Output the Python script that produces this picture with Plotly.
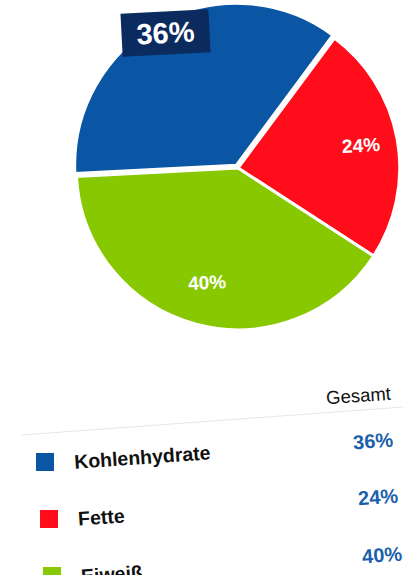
import math
import plotly.graph_objects as go

# ---------------- data ----------------
categories = ["Kohlenhydrate", "Fette", "Eiweiß"]
values = [36, 24, 40]
percent_labels = ["36%", "24%", "40%"]
colors = ["#0a55a4", "#ff0d1a", "#88c800"]
column_header = "Gesamt"

# ---------------- layout constants ----------------
W, H = 403, 575
DOM_X = [0.1811, 1.0]
DOM_Y = [0.4157, 1.0]
PULL = [0.02, 0, 0]
ROTATION = -93
FONT = "Liberation Sans, Arial, Helvetica, sans-serif"
TILT = -4


def px(x):
    """screen pixel x -> paper x"""
    return x / W


def py(y):
    """screen pixel y -> paper y"""
    return 1 - y / H


fig = go.Figure()
fig.add_trace(go.Pie(
    labels=categories,
    values=values,
    sort=False,
    direction="clockwise",
    rotation=ROTATION,
    pull=PULL,
    marker=dict(colors=colors, line=dict(color="white", width=3)),
    textinfo="none",
    hoverinfo="label+percent",
    domain=dict(x=DOM_X, y=DOM_Y),
    showlegend=False,
))

# pie geometry (same rules plotly uses) to place the slice labels
box_w = W * (DOM_X[1] - DOM_X[0])
box_h = H * (DOM_Y[1] - DOM_Y[0])
r = min(box_w, box_h) / (2 + 2 * max(PULL))
cx = W * (DOM_X[0] + DOM_X[1]) / 2
cy = H * (1 - DOM_Y[1]) + box_h / 2

label_radius = [0.93, 0.77, 0.73]
total = sum(values)
start = ROTATION
annotations = []
for i, v in enumerate(values):
    span = 360 * v / total
    mid = math.radians(start + span / 2)
    start += span
    rr = (label_radius[i] + PULL[i]) * r
    lx = cx + rr * math.sin(mid)
    ly = cy - rr * math.cos(mid)
    if i == 0:
        annotations.append(dict(
            x=px(lx), y=py(ly), xref="paper", yref="paper",
            text="<b>%s</b>" % percent_labels[i], showarrow=False,
            font=dict(family=FONT, size=29, color="white"),
            bgcolor="#0b2b5f", borderpad=4, width=79, height=34,
            textangle=-3, xanchor="center", yanchor="middle",
        ))
    else:
        annotations.append(dict(
            x=px(lx), y=py(ly), xref="paper", yref="paper",
            text="<b>%s</b>" % percent_labels[i], showarrow=False,
            font=dict(family=FONT, size=19, color="white"),
            textangle=-3, xanchor="center", yanchor="middle",
        ))

# ---------------- table below the pie ----------------
annotations.append(dict(
    x=px(358), y=py(395), xref="paper", yref="paper", text=column_header,
    showarrow=False, font=dict(family=FONT, size=18.5, color="#111111"),
    textangle=TILT, xanchor="center", yanchor="middle",
))

row_label_pos = [(142.5, 457), (101.5, 517), (111.5, 574)]
row_value_pos = [(373, 441), (377.5, 497), (382, 555)]
swatch_pos = [(45, 462), (49, 519), (52, 576)]
SW = 18

shapes = [dict(
    type="line", xref="paper", yref="paper",
    x0=px(22), y0=py(435), x1=px(403), y1=py(407),
    line=dict(color="#e6e6e6", width=1),
)]

for i, cat in enumerate(categories):
    lx, ly = row_label_pos[i]
    annotations.append(dict(
        x=px(lx), y=py(ly), xref="paper", yref="paper", text="<b>%s</b>" % cat,
        showarrow=False, font=dict(family=FONT, size=19.5, color="#111111"),
        textangle=TILT, xanchor="center", yanchor="middle",
    ))
    vx, vy = row_value_pos[i]
    annotations.append(dict(
        x=px(vx), y=py(vy), xref="paper", yref="paper",
        text="<b>%s</b>" % percent_labels[i],
        showarrow=False, font=dict(family=FONT, size=20, color="#1a5fab"),
        textangle=TILT, xanchor="center", yanchor="middle",
    ))
    sx, sy = swatch_pos[i]
    shapes.append(dict(
        type="rect", xref="paper", yref="paper",
        x0=px(sx - SW / 2), x1=px(sx + SW / 2),
        y0=py(sy + SW / 2), y1=py(sy - SW / 2),
        fillcolor=colors[i], line=dict(width=0),
    ))

fig.update_layout(
    width=W, height=H, autosize=False,
    margin=dict(l=0, r=0, t=0, b=0),
    paper_bgcolor="white", plot_bgcolor="white",
    annotations=annotations, shapes=shapes,
    showlegend=False,
)

# remove the default page margin so the figure fills the window exactly
fig.write_html(
    "out.html",
    config={"displayModeBar": False},
    post_script="document.body.style.margin='0';document.body.style.overflow='hidden';",
)
